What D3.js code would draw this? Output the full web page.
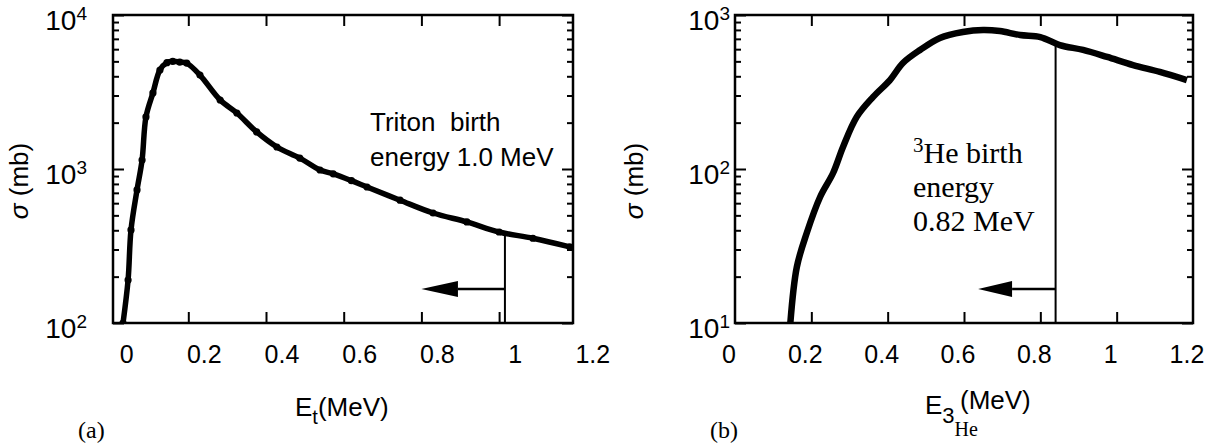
<!DOCTYPE html>
<html>
<head>
<meta charset="utf-8">
<script src="https://cdn.jsdelivr.net/npm/d3@7"></script>
<style>
    body { margin: 0; background: #fff; }
    svg { display: block; }
    text { font-family: "Liberation Sans", Arial, Helvetica, sans-serif; fill: #000; white-space: pre; }
    .serif { font-family: "Liberation Serif", "Times New Roman", serif; }
</style>
</head>
<body>
<svg id="chart" width="1214" height="446"></svg>
<script>
// (a) triton on deuterium, cross section in mb vs triton energy in MeV
const tritonE = [0.032, 0.045, 0.0525, 0.068, 0.081, 0.091, 0.109, 0.127, 0.145, 0.16, 0.178, 0.196, 0.23, 0.282,
    0.325, 0.376, 0.428, 0.487, 0.539, 0.573, 0.62, 0.66, 0.745, 0.83, 0.917, 1.0, 1.087, 1.182]
const tritonSigma = [100, 190, 402, 731, 1143, 2178, 3120, 4395, 4900, 5000, 4950, 4870, 4070, 2805,
    2310, 1740, 1390, 1177, 985, 930, 840, 764, 627, 518, 453, 390, 355, 312]

// (b) 3He on deuterium
const he3E = [0.145, 0.162, 0.188, 0.223, 0.257, 0.283, 0.319, 0.362, 0.406, 0.44, 0.485, 0.537, 0.597,
    0.65, 0.694, 0.747, 0.80, 0.851, 0.912, 0.975, 1.043, 1.113, 1.184]
const he3Sigma = [10, 23.1, 38.4, 65.8, 94.2, 139, 218, 294, 378, 488, 593, 710, 776,
    800, 787, 741, 719, 638, 593, 534, 473, 427, 378]

const xTickValues = [0.2, 0.4, 0.6, 0.8, 1.0]
const xLabelValues = [0, 0.2, 0.4, 0.6, 0.8, 1.0, 1.2]
const xLabelTexts = ['0', '0.2', '0.4', '0.6', '0.8', '1', '1.2']

// birth energy markers: [energy, sigma at curve], arrow [tip energy, head energy, sigma level]
const tritonMarker = [1.015, 388]
const tritonArrow = [0.80, 0.894, 166]
const he3Marker = [0.84, 645]
const he3Arrow = [0.637, 0.726, 16.6]

const svg = d3.select('#chart')

const drawPanel = cfg => {
    const { left, right, top, bottom } = cfg.frame
    const x = d3.scaleLinear().domain([0, 1.2]).range(cfg.xRange)
    const y = d3.scaleLog().domain(cfg.yDomain).range([bottom, top])
    const g = svg.append('g')

    g.append('clipPath').attr('id', cfg.id + '-clip')
        .append('rect')
        .attr('x', left).attr('y', top)
        .attr('width', right - left).attr('height', bottom - top)

    // inward ticks on all four sides
    const minor = y.ticks().filter(v => Math.abs(Math.log10(v) % 1) > 1e-6)
    const major = y.ticks().filter(v => Math.abs(Math.log10(v) % 1) < 1e-6)
    const tickStyle = sel => {
        sel.select('.domain').remove()
        sel.selectAll('line').attr('stroke', '#000').attr('stroke-width', 2)
    }
    g.append('g').attr('transform', `translate(${left},0)`)
        .call(d3.axisLeft(y).tickValues(minor).tickSize(-6).tickFormat('')).call(tickStyle)
    g.append('g').attr('transform', `translate(${left},0)`)
        .call(d3.axisLeft(y).tickValues(major).tickSize(-11).tickFormat('')).call(tickStyle)
    g.append('g').attr('transform', `translate(${right},0)`)
        .call(d3.axisRight(y).tickValues(minor).tickSize(-6).tickFormat('')).call(tickStyle)
    g.append('g').attr('transform', `translate(${right},0)`)
        .call(d3.axisRight(y).tickValues(major).tickSize(-11).tickFormat('')).call(tickStyle)
    g.append('g').attr('transform', `translate(0,${bottom})`)
        .call(d3.axisBottom(x).tickValues(xTickValues).tickSize(-11).tickFormat('')).call(tickStyle)
    g.append('g').attr('transform', `translate(0,${top})`)
        .call(d3.axisTop(x).tickValues(xTickValues).tickSize(-11).tickFormat('')).call(tickStyle)

    g.append('rect')
        .attr('x', left).attr('y', top)
        .attr('width', right - left).attr('height', bottom - top)
        .attr('fill', 'none').attr('stroke', '#000').attr('stroke-width', 2.5)

    // x tick labels (slightly shifted in the scan)
    g.selectAll('text.xl')
        .data(xLabelValues)
        .join('text')
        .attr('class', 'xl')
        .attr('x', d => x(d) + cfg.xLabelShift)
        .attr('y', cfg.xLabelY)
        .attr('text-anchor', 'middle')
        .attr('font-size', 25)
        .text((d, i) => xLabelTexts[i])

    // y decade labels 10^n
    const yl = g.selectAll('text.yl')
        .data(major)
        .join('text')
        .attr('class', 'yl')
        .attr('x', cfg.yLabelRight)
        .attr('y', d => y(d) + 15)
        .attr('text-anchor', 'end')
        .attr('font-size', 28)
    yl.append('tspan').text('10')
    yl.append('tspan').attr('dy', -10).attr('font-size', 19).text(d => Math.round(Math.log10(d)))

    // y title
    const yt = g.append('text')
        .attr('transform', `translate(${cfg.yTitleX},${(top + bottom) / 2 + 12}) rotate(-90)`)
        .attr('text-anchor', 'middle')
        .attr('font-size', 26)
    yt.append('tspan').attr('font-style', 'italic').text('σ')
    yt.append('tspan').text(' (mb)')

    // curve
    const pts = cfg.xs.map((e, i) => [e, cfg.ys[i]])
    const line = d3.line().x(d => x(d[0])).y(d => y(d[1])).curve(d3.curveCatmullRom)
    g.append('path')
        .datum(pts)
        .attr('d', line)
        .attr('fill', 'none')
        .attr('stroke', '#000')
        .attr('stroke-width', cfg.lineWidth)
        .attr('stroke-linejoin', 'round')
        .attr('clip-path', `url(#${cfg.id}-clip)`)
    if (cfg.dots) {
        g.selectAll('circle')
            .data(pts)
            .join('circle')
            .attr('cx', d => x(d[0]))
            .attr('cy', d => y(d[1]))
            .attr('r', 3.6)
            .attr('fill', '#000')
            .attr('clip-path', `url(#${cfg.id}-clip)`)
    }

    // birth energy marker and arrow
    const [mE, mS] = cfg.marker
    g.append('line')
        .attr('x1', x(mE)).attr('x2', x(mE))
        .attr('y1', y(mS)).attr('y2', bottom)
        .attr('stroke', '#000').attr('stroke-width', 2)
    const [tipE, headE, aS] = cfg.arrow
    g.append('line')
        .attr('x1', x(mE)).attr('x2', x(headE))
        .attr('y1', y(aS)).attr('y2', y(aS))
        .attr('stroke', '#000').attr('stroke-width', 2.5)
    g.append('path')
        .attr('d', `M${x(tipE)},${y(aS)} L${x(headE)},${y(aS) - 8} L${x(headE)},${y(aS) + 8} Z`)
        .attr('fill', '#000')

    return { g, x, y }
}

// ---- panel (a)
const a = drawPanel({
    id: 'pa',
    frame: { left: 113, right: 573, top: 15, bottom: 323 },
    xRange: [110.6, 576.8],
    yDomain: [100, 10000],
    xs: tritonE, ys: tritonSigma,
    lineWidth: 5.5, dots: true,
    marker: tritonMarker, arrow: tritonArrow,
    xLabelShift: 16, xLabelY: 363,
    yLabelRight: 87, yTitleX: 28
})
const ta = a.g.append('text').attr('font-size', 26)
ta.append('tspan').attr('x', 370).attr('y', 131).text('Triton  birth')
ta.append('tspan').attr('x', 370).attr('y', 166).text('energy 1.0 MeV')

const xa = a.g.append('text').attr('x', 295).attr('y', 416).attr('font-size', 26)
xa.append('tspan').text('E')
xa.append('tspan').attr('dy', 8).attr('font-size', 20).text('t')
xa.append('tspan').attr('dy', -8).text('(MeV)')
a.g.append('text').attr('class', 'serif').attr('x', 78).attr('y', 438).attr('font-size', 24).text('(a)')

// ---- panel (b)
const b = drawPanel({
    id: 'pb',
    frame: { left: 735, right: 1193, top: 15, bottom: 323 },
    xRange: [735, 1193],
    yDomain: [10, 1000],
    xs: he3E, ys: he3Sigma,
    lineWidth: 6.5, dots: false,
    marker: he3Marker, arrow: he3Arrow,
    xLabelShift: -6, xLabelY: 363,
    yLabelRight: 730, yTitleX: 643
})
const tb = b.g.append('text').attr('class', 'serif').attr('font-size', 30)
tb.append('tspan').attr('x', 913).attr('y', 152).attr('font-size', 21).text('3')
tb.append('tspan').attr('dy', 11).attr('font-size', 30).text('He birth')
tb.append('tspan').attr('x', 913).attr('y', 197).text('energy')
tb.append('tspan').attr('x', 913).attr('y', 231).text('0.82 MeV')

const xb = b.g.append('text').attr('x', 925).attr('y', 414).attr('font-size', 26)
xb.append('tspan').text('E')
xb.append('tspan').attr('dy', 9).attr('font-size', 22).text('3')
xb.append('tspan').attr('class', 'serif').attr('dy', 13).attr('font-size', 20).text('He')
b.g.append('text').attr('x', 960).attr('y', 409).attr('font-size', 26).text('(MeV)')
b.g.append('text').attr('class', 'serif').attr('x', 710).attr('y', 438).attr('font-size', 24).text('(b)')
</script>
</body>
</html>
